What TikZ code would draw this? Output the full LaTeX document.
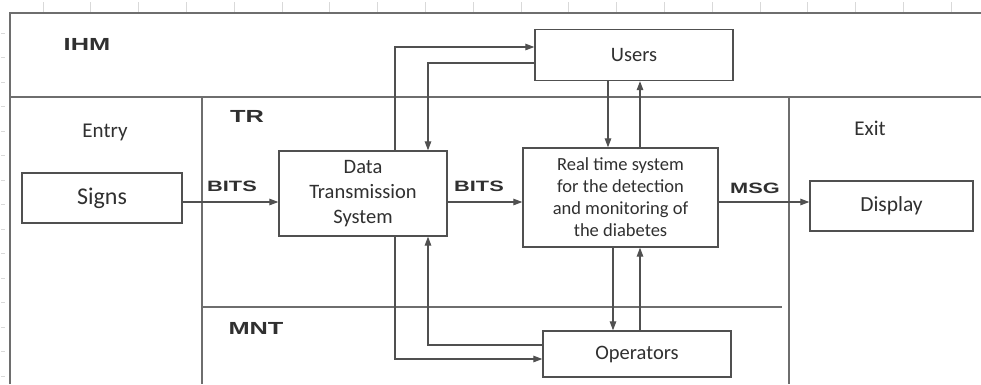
\documentclass[tikz,border=0pt]{standalone}
\usepackage{fontspec}
\setmainfont{Carlito}
\newfontfamily\zonefont[FakeStretch=1.45]{Liberation Sans Bold}
\usetikzlibrary{arrows.meta}
\definecolor{frameline}{HTML}{6E6E6E}
\definecolor{boxline}{HTML}{505050}
\definecolor{inktext}{HTML}{303030}
\tikzset{
  frame/.style={draw=frameline, line width=1.3pt},
  rulertick/.style={draw=black!15, line width=0.8pt},
  block/.style={draw=boxline, line width=1.3pt, fill=white, text=inktext,
    font=\fontsize{20.5}{25}\selectfont, align=center, inner sep=0pt},
  zone/.style={text=inktext, font=\zonefont\fontsize{17.5}{20}\selectfont, inner sep=0pt},
  flowlabel/.style={text=inktext, font=\zonefont\fontsize{15}{17}\selectfont, inner sep=0pt},
  plainlabel/.style={text=inktext, font=\fontsize{21}{24}\selectfont, inner sep=0pt},
  link/.style={draw=boxline, line width=1.2pt, -{Triangle[length=9pt,width=6.5pt]}}
}
\begin{document}
\begin{tikzpicture}[x=1pt, y=-1pt]
  \useasboundingbox (0,0) rectangle (981,384);
  \fill[white] (0,0) rectangle (981,384);

  % faint ruler ticks along the top and left margins
  \foreach \i in {0,...,19}
    \draw[rulertick] ({43+47.8*\i},2) -- ({43+47.8*\i},12);
  \foreach \j in {0,...,14}
    \draw[rulertick] (1,{33+24.5*\j}) -- (5,{33+24.5*\j});

  % swimlane frame
  \draw[frame] (10,384) -- (10,13) -- (981,13);
  \draw[frame] (10,97) -- (981,97);
  \draw[frame] (202,97) -- (202,384);
  \draw[frame] (789,97) -- (789,384);
  \draw[frame, line width=1.1pt] (202,307) -- (782,307);

  % lane titles
  \node[zone] (ihm) at (87,44) {IHM};
  \node[zone] (tr) at (247,116) {TR};
  \node[zone] (mnt) at (256,328) {MNT};
  \node[plainlabel] (entry) at (105,132) {Entry};
  \node[plainlabel] (exit) at (870,128) {Exit};

  % blocks
  \node[block, minimum width=160pt, minimum height=50pt,
        font=\fontsize{24}{28}\selectfont] (signs) at (102,198) {Signs};
  \node[block, minimum width=168pt, minimum height=85pt] (dts) at (363,193.5)
    {Data\\Transmission\\System};
  \node[block, minimum width=195pt, minimum height=99pt,
        font=\fontsize{18.5}{22}\selectfont] (rt) at (620.5,197.5)
    {Real time system\\for the detection\\and monitoring of\\the diabetes};
  \node[block, minimum width=163pt, minimum height=50pt,
        font=\fontsize{21.5}{25}\selectfont] (display) at (891.5,206) {Display};
  \node[block, minimum width=198pt, minimum height=51pt] (users) at (634,55) {Users};
  \node[block, minimum width=188pt, minimum height=46pt] (ops) at (637,354) {Operators};

  % reference coordinates for connector rows and columns
  \coordinate (flow) at (0,202);
  \coordinate (uout) at (0,47);
  \coordinate (uin) at (0,63);
  \coordinate (oin) at (0,345);
  \coordinate (oout) at (0,359);
  \coordinate (colA) at (395,0);
  \coordinate (colB) at (428,0);
  \coordinate (colC) at (608,0);
  \coordinate (colD) at (613,0);
  \coordinate (colE) at (640,0);

  % main data flow
  \draw[link] (signs.east |- flow) -- (dts.west |- flow);
  \draw[link] (dts.east |- flow) -- (rt.west |- flow);
  \draw[link] (rt.east |- flow) -- (display.west |- flow);
  \node[flowlabel] (bits1) at (232,186) {BITS};
  \node[flowlabel] (bits2) at (479,186) {BITS};
  \node[flowlabel] (msg) at (755,188) {MSG};

  % exchanges between the transmission system and users / operators
  \draw[link] (dts.north -| colA) |- (users.west |- uout);
  \draw[link] (users.west |- uin) -| (dts.north -| colB);
  \draw[link] (dts.south -| colA) |- (ops.west |- oout);
  \draw[link] (ops.west |- oin) -| (dts.south -| colB);

  % exchanges between the real time system and users / operators
  \draw[link] (users.south -| colC) -- (rt.north -| colC);
  \draw[link] (rt.north -| colE) -- (users.south -| colE);
  \draw[link] (rt.south -| colD) -- (ops.north -| colD);
  \draw[link] (ops.north -| colE) -- (rt.south -| colE);
\end{tikzpicture}
\end{document}
